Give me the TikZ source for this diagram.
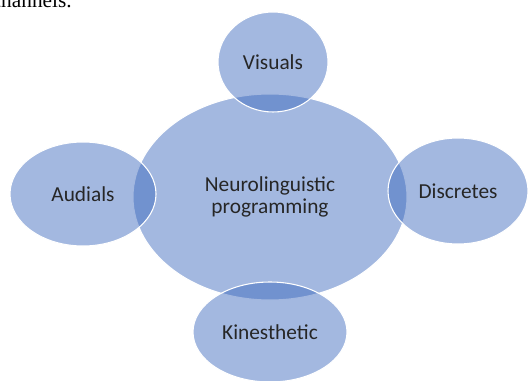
\documentclass[tikz,border=0pt]{standalone}
\usepackage{fontspec}
\setmainfont{Carlito}
\newfontfamily\timesfont{Liberation Serif}
\usetikzlibrary{shapes.geometric}
\definecolor{nlpblue}{RGB}{54,100,187}
\definecolor{nlptext}{RGB}{38,38,38}
\tikzstyle{bubble} = [ellipse, draw=white, line width=0.8pt, fill=nlpblue, fill opacity=0.46, text opacity=1, text=nlptext, inner sep=0mm, align=center, font=\fontsize{16}{16}\selectfont]
\tikzstyle{caption} = [inner sep=0mm, anchor=base east, font=\timesfont\fontsize{16}{16}\selectfont]

\begin{document}
\begin{tikzpicture}[x=0.75pt, y=-0.75pt]
                \clip (0, 0) rectangle (528, 381);
                % cut-off line of the running text above
                \node[caption] (cut) at (72, 8) {channels.};

                \node[bubble, minimum width=205.5pt, minimum height=154.5pt] (nlp) at (270, 197) {Neurolinguistic\\programming};
                \node[bubble, minimum width=82.5pt, minimum height=75pt] (visuals) at (273, 62) {Visuals};
                \node[bubble, minimum width=109.5pt, minimum height=78pt] (audials) at (83, 194) {Audials};
                \node[bubble, minimum width=105pt, minimum height=79.5pt] (discretes) at (458, 191) {Discretes};
                \node[bubble, minimum width=115.5pt, minimum height=75pt] (kinesthetic) at (270, 332) {Kinesthetic};
            \end{tikzpicture}
\end{document}
